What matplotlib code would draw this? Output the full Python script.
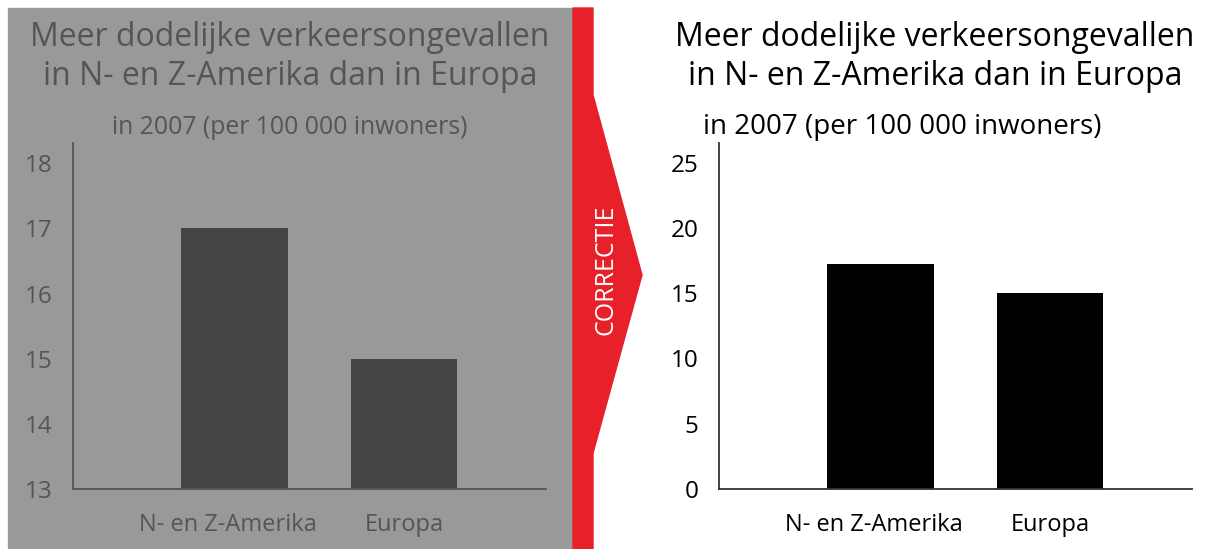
import numpy as np
import matplotlib.pyplot as plt
from matplotlib.patches import Rectangle, Polygon

plt.rcParams['font.family'] = ['Open Sans', 'DejaVu Sans']

# data
categories = ['N- en Z-Amerika', 'Europa']
values_misleading = [17.0, 15.0]
values_correct = [17.2, 15.0]
ticks_misleading = [13, 14, 15, 16, 17, 18]
ticks_correct = [0, 5, 10, 15, 20, 25]

title = 'Meer dodelijke verkeersongevallen\nin N- en Z-Amerika dan in Europa'
subtitle = 'in 2007 (per 100 000 inwoners)'

W, H = 1209, 549
fig = plt.figure(figsize=(W / 100, H / 100), dpi=100)
fig.patch.set_facecolor('white')


def fx(x):
    return x / W


def fy(y):
    return 1 - y / H


# backgrounds: grey panel, red band with arrow
fig.patches.append(Rectangle((fx(8), 0), fx(573) - fx(8), fy(8),
                             transform=fig.transFigure, color='#999999', zorder=-1))
arrow = [(573, 8), (593, 8), (593, 95), (642, 275), (593, 453), (593, 549), (573, 549)]
fig.patches.append(Polygon([(fx(x), fy(y)) for x, y in arrow], closed=True,
                           transform=fig.transFigure, color='#e8202a', zorder=-1))
fig.text(fx(606), fy(270), 'CORRECTIE', rotation=90, color='white',
         fontsize=18, ha='center', va='center')


def draw_panel(x0, values, ticks, ylim, fg, bar_color, sub_size, title_cx, sub_cx, tcol):
    ax = fig.add_axes([fx(x0), fy(489), fx(473), 346 / H])
    ax.set_zorder(2)
    ax.patch.set_alpha(0)
    x = np.arange(len(categories))
    ax.bar(x, values, width=0.63, color=bar_color)
    ax.set_ylim(*ylim)
    ax.set_xlim(-0.953, 1.838)
    ax.set_yticks(ticks)
    # first label sits a little left of its bar in the original
    ax.set_xticks(x - np.array([0.04, 0.0]))
    ax.set_xticklabels(categories)
    for s in ['top', 'right']:
        ax.spines[s].set_visible(False)
    for s in ['left', 'bottom']:
        ax.spines[s].set_color(fg)
        ax.spines[s].set_linewidth(1.3)
    ax.tick_params(axis='y', length=0, pad=15, labelsize=17.5, labelcolor=tcol)
    ax.tick_params(axis='x', length=0, pad=17, labelsize=17, labelcolor=tcol)
    fig.text(fx(title_cx), fy(57), title, ha='center', va='center',
             fontsize=23, color=tcol, linespacing=1.22)
    fig.text(fx(sub_cx), fy(127), subtitle, ha='center', va='center',
             fontsize=sub_size, color=tcol)
    return ax


draw_panel(73, values_misleading, ticks_misleading, (13, 18.31), '#555555',
           '#444446', 17.8, 290, 290, '#555555')
draw_panel(719, values_correct, ticks_correct, (0, 26.5), '#333333',
           'black', 20, 935, 902, 'black')

fig.savefig('out.png', dpi=100)
